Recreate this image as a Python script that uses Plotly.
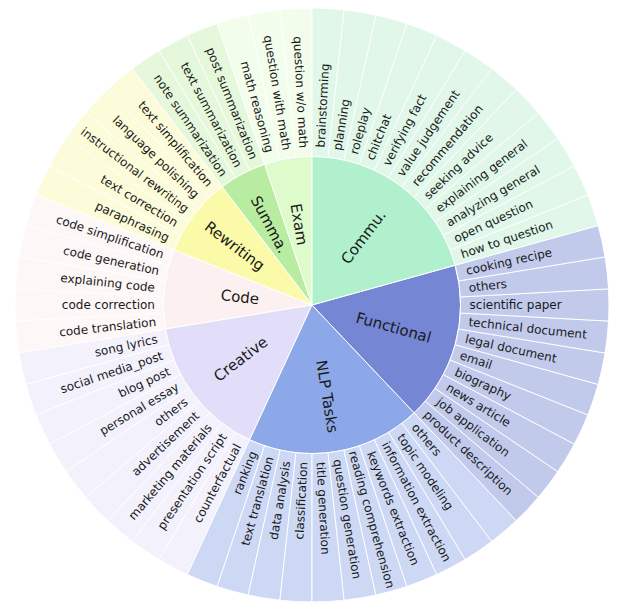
import plotly.graph_objects as go

# Categories (clockwise from 12 o'clock, as in the reference)
categories = ["Commu.", "Functional", "NLP Tasks", "Creative", "Code", "Rewriting", "Summa.", "Exam"]

commu = ["brainstorming", "planning", "roleplay", "chitchat", "verifying fact", "value judgement",
         "recommendation", "seeking advice", "explaining general", "analyzing general",
         "open question", "how to question"]
functional = ["cooking recipe", "others", "scientific paper", "technical document", "legal document",
              "email", "biography", "news article", "job application", "product description"]
nlp = ["others", "topic modeling", "information extraction", "keywords extraction",
       "reading comprehension", "question generation", "title generation", "classification",
       "data analysis", "text translation", "ranking"]
creative = ["counterfactual", "presentation script", "marketing materials", "advertisement", "others",
            "personal essay", "blog post", "social media_post", "song lyrics"]
code = ["code translation", "code correction", "explaining code", "code generation", "code simplification"]
rewriting = ["paraphrasing", "text correction", "instructional rewriting", "language polishing",
             "text simplification"]
summa = ["note summarization", "text summarization", "post summarization"]
exam = ["math reasoning", "question with math", "question w/o math"]

children = [commu, functional, nlp, creative, code, rewriting, summa, exam]
# every sub-task occupies the same angular share
leaf_value = 1

inner_colors = ["#b0f0cc", "#7486d4", "#8ca8e8", "#e2defa", "#fdf0f0", "#fbfaa8", "#b8eca0", "#ddfbcb"]
outer_colors = ["#d3f5e1", "#a9b4e4", "#b9c9f0", "#eeecfc", "#fdf4f4", "#fcfccc", "#dbf6cc", "#eefde4"]

# approximate DejaVu Sans advance widths (em) used to pad labels so they hug the inner edge
_W = {" ": .318, "a": .613, "b": .635, "c": .550, "d": .635, "e": .615, "f": .352, "g": .635,
      "h": .634, "i": .278, "j": .278, "k": .579, "l": .278, "m": .974, "n": .634, "o": .612,
      "p": .635, "q": .635, "r": .411, "s": .521, "t": .392, "u": .634, "v": .592, "w": .818,
      "x": .592, "y": .592, "z": .525, "/": .337, "_": .500}
NB = "\u00a0"
TARGET_EM = 10.9

# (leading, trailing) non-breaking-space padding for the inner-ring labels
inner_pad = {"Commu.": (0, 0), "Functional": (5, 4), "NLP Tasks": (4, 0), "Creative": (0, 0),
             "Code": (11, 3), "Rewriting": (0, 0), "Summa.": (5, 0), "Exam": (9, 0)}


def padded(label, outward):
    w = sum(_W.get(ch, .6) for ch in label)
    n = max(0, int(round((TARGET_EM - w) / .318)))
    return label + NB * n if outward else NB * n + label


n_leaves = sum(len(c) for c in children)
leaf_index = {}
k = 0
for ci, cat in enumerate(categories):
    for leaf in children[ci]:
        leaf_index[(cat, leaf)] = k
        k += 1

ids, labels, texts, parents, values, colors, sizes = [], [], [], [], [], [], []
# plotly lays sectors counter-clockwise, so feed them in reverse order
for ci in reversed(range(len(categories))):
    cat = categories[ci]
    lead, trail = inner_pad[cat]
    ids.append(cat)
    labels.append(cat)
    texts.append(NB * lead + cat + NB * trail)
    parents.append("")
    values.append(0)
    colors.append(inner_colors[ci])
    sizes.append(15)
    for leaf in reversed(children[ci]):
        mid = (leaf_index[(cat, leaf)] + 0.5) * 360.0 / n_leaves
        ids.append(cat + "/" + leaf)
        labels.append(leaf)
        texts.append(padded(leaf, mid < 180))
        parents.append(cat)
        values.append(leaf_value)
        colors.append(outer_colors[ci])
        sizes.append(12)

fig = go.Figure(go.Sunburst(
    ids=ids, labels=labels, parents=parents, values=values,
    text=texts, textinfo="text",
    branchvalues="remainder",
    sort=False,
    rotation=90,
    insidetextorientation="radial",
    marker=dict(colors=colors, line=dict(color="white", width=1)),
    textfont=dict(family="DejaVu Sans", size=sizes, color="#1a1a1a"),
    hoverinfo="label",
))
fig.update_layout(
    width=634, height=611,
    margin=dict(l=0, r=26, t=0, b=17),
    paper_bgcolor="white",
    showlegend=False,
)
fig.write_html("out.html")
